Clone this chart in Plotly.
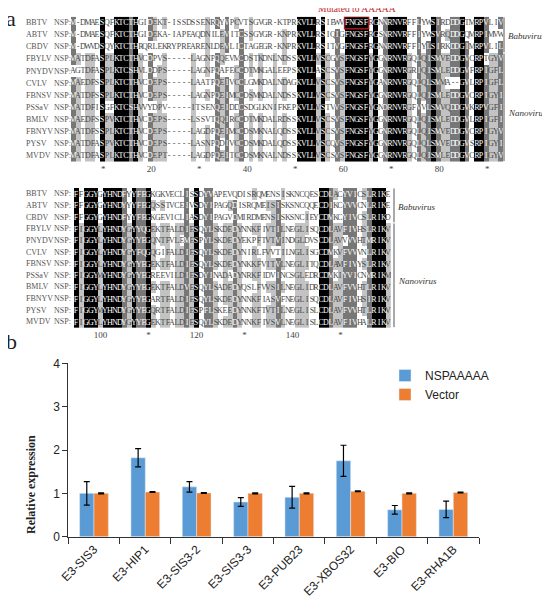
import plotly.graph_objects as go
from collections import Counter

# ---- panel a: NSP alignment ----
viruses = ["BBTV", "ABTV", "CBDV", "FBYLV", "PNYDV", "CVLV",
           "FBNSV", "PSSaV", "BMLV", "FBNYV", "PYSV", "MVDV"]

block1 = [
    "M-DMAESQFKTCTHGIDEKT-ISSDSSENRQYVPCVTSGVGR-KTPRKVLLRSIEWVFNGSFRGNNRNVRFFLYWSIRDDDGTMRPVLIV",
    "M-DMAESQFKTCTHGIDEKA-IAPEAQDNILEVITCSSGYGR-KNPRKVLLRSIQIGFNGSFRGSNRNVRFFIYWSVRQDDGQMRPIMVW",
    "M-DWVDSQYKTCTHRQRLEKRYPREARENLDEVLICTAGEGR-KNPRKVLLRSITVGFNGSFRGNNRNVRFFIYLSIRKDDGIMRPVLIL",
    "MATDFASPLKTCTHVCDPVS-----LAGNPQQEVMCDSTKDNLNDSSKVLLVSCGVSFNGSFYGGNRNVRGQLQISMVEDDGVCRPTGYV",
    "AGTDFASPLKTCSHVLDDPS-----LAGNPQAFECCDTMKGALEEPSKVLLASCSVSFNGSFYGGNRNVRGRIQISMLEDDGVFRPIGFL",
    "MAEDFSSPLKTCTHVCDEPS-----LAATPQEIVCCLGMKDALNDAGKVLLVSCSVSFNGSFYGANRNVRGQLQLSMMA--GVLRPIGFL",
    "MATDFSSPLKTCTHVCDEPS-----LAGNPQEIMCCDSMKDALNDSSKVLLVSCSVSFNGSFYGGNRNVRGQLQISMLEDDGVCRPIGYI",
    "MATDFISGFKTCSHVVYDPV-----ITSENQEIDDCSDGLKNIFKEPKVLLVSTVVSFNGSFYGNDRNVRGFVVLSMVQDDGVKRPVGFI",
    "MAEDFSSPVKTCTHVCDEPS-----LSSVTQQIRCCDTMKDALRDSSKVLLVSCSVSFNGSFYGGNRNVRGQLQISMLEDDGVLRPIGFI",
    "MATDFSSPLKTCTHVCDEPS-----LAGDPQEIMCCDSMKNALQDSSKVLLVSCSVSFNGSFYGGNRNVRGQLQISMVEDDGVCRPIGYV",
    "MATDFASPVKTCTHVCDEPS-----LASNPQDIVCCDSMKDALQDSSKVLLVSCQVSFNGSFYGGNRNVRGQLQLSMVEDDGVSRPIGYI",
    "MATDFASPLKTCTHVCDEPT-----LAGDPQEITCCDSMKNALNDSSKVLLVSCSVSFNGSFYGGNRNVRGQLQISMLEDDGVCRPIGYV",
]

block2 = [
    "FFGGYGYHNDFYYFEGKGKVECLISSDYVAPEVQDISRQMENSISKNCQESCDLACYVICSLRIKE",
    "FFGGYGYHNDYYYFEGQSSTVCEIVSDYIPAGQDISRQMEISISKSNCQQECDIKCYVVCNLRIKE",
    "FFGGYGYHNDFYYFEGKGEVICLIASDYIPAGVDMIRDMENSISKSNCIEYCDMKCYIVCSLRIKD",
    "FIGGYLYHNDYGYYQGEKTFALDIESQYLSKDEDYNNKFIVTILNEGLISQCDLAVFIVHSLRIKV",
    "FIGGYLYHNDYGYYEGQNTFVLEMESPYLSKDEDYEKPFTVTVINDGLDVSCDLAVVVVHTMRIKV",
    "FIGGYLYHNDYGYFQGQGIFALDIESQYLSKDEDYNIRLFVVTILNGLISGCDMKVFVVVNLRIKV",
    "FIGGYLYHNDYGYYEGEKTFALDIESQYLSKDEDYNKKFVITVLNEGLITQCDLAMFIVYSLRIKV",
    "FIGGYMYHNDYGYYEGREEVILDIESDYINADADYNRKFIDVINCSGLEDRCDMKIYVICNMRIKM",
    "FIGGYLYHNDYGYYEGEKTFALDVESQYLSADEDYQSLFVVSILNEGLIDRCDLAVFVVHTLRIKV",
    "FIGGYLYHNDYGYYEGARTFALDIESQYLSKDEDYNNKFIASVFNEGLISQCDLAVFIVHSIRIKV",
    "FIGGYMYHNDYGYYEGQRTFALDIESPFLSKEEDYNNKFTVTILNEGLISLCDLAVFVVHTLRIKV",
    "FIGGYLYHNDYGYYEGEKTFALDIESQYLSKDEDYNNKFIVSVLNEGLISLCDLAVFIVHALRIKV",
]

ruler1 = ["*", "20", "*", "40", "*", "60", "*", "80", "*"]
ruler2 = ["100", "*", "120", "*", "140", "*"]
groups = [("Babuvirus", 0, 2), ("Nanovirus", 3, 11)]
mutated = "FNGSF"
similar = ["DN", "EQ", "ST", "KR", "FYW", "LIVM"]

# ---- panel b: qPCR ----
genes = ["E3-SIS3", "E3-HIP1", "E3-SIS3-2", "E3-SIS3-3",
         "E3-PUB23", "E3-XBOS32", "E3-BIO", "E3-RHA1B"]
nsp_vals = [1.00, 1.82, 1.15, 0.80, 0.91, 1.75, 0.62, 0.63]
nsp_err = [0.27, 0.21, 0.12, 0.10, 0.25, 0.36, 0.10, 0.19]
vec_vals = [1.00, 1.03, 1.01, 1.00, 1.00, 1.05, 1.00, 1.02]
vec_err = [0.01, 0.01, 0.01, 0.01, 0.01, 0.01, 0.01, 0.01]

assert len(set(map(len, block1))) == 1 and len(set(map(len, block2))) == 1


def grp(ch):
    for g in similar:
        if ch in g:
            return g
    return ch


def shade(seqs):
    # GeneDoc-like shading: 100% identical black, >=80% similar dark grey, >=60% light grey
    n = len(seqs)
    z = [[0] * len(seqs[0]) for _ in seqs]
    for c in range(len(seqs[0])):
        col = [s[c] for s in seqs]
        cnt = Counter(grp(ch) for ch in col if ch != "-")
        if not cnt:
            continue
        g, k = cnt.most_common(1)[0]
        ident = Counter(ch for ch in col if ch != "-").most_common(1)[0][1]
        if ident == n:
            lvl = 3
        elif k / n >= 0.8:
            lvl = 2
        elif k / n >= 0.6:
            lvl = 1
        else:
            lvl = 0
        for r, ch in enumerate(col):
            if ch != "-" and grp(ch) == g:
                z[r][c] = lvl
    return z


W, H = 550, 608
OFF = 8  # page body margin
px = lambda v: (v - OFF) / W
py = lambda v: 1 - (v - OFF) / H

cscale = [[0, "white"], [0.25, "white"], [0.25, "#c3c3c3"], [0.5, "#c3c3c3"],
          [0.5, "#777777"], [0.75, "#777777"], [0.75, "black"], [1, "black"]]
serif = "Liberation Serif, Times New Roman, serif"
sans = "Arial, Liberation Sans, sans-serif"

fig = go.Figure()
for i, seqs in enumerate([block1, block2]):
    ax = "" if i == 0 else "2"
    fig.add_trace(go.Heatmap(
        z=shade(seqs), x=list(range(1, len(seqs[0]) + 1)), y=list(range(len(seqs))),
        text=[list(s) for s in seqs], texttemplate="%{text}",
        textfont=dict(family=serif, size=8),
        colorscale=cscale, zmin=-0.5, zmax=3.5, showscale=False,
        hoverinfo="skip", xaxis="x" + ax, yaxis="y" + ax))

fig.add_trace(go.Bar(name="NSPAAAAA", x=genes, y=nsp_vals, marker_color="#5B9BD5",
                     error_y=dict(type="data", array=nsp_err, color="black", thickness=1.2, width=3),
                     xaxis="x3", yaxis="y3"))
fig.add_trace(go.Bar(name="Vector", x=genes, y=vec_vals, marker_color="#ED7D31",
                     error_y=dict(type="data", array=vec_err, color="black", thickness=1.2, width=3),
                     xaxis="x3", yaxis="y3"))

hid = dict(showgrid=False, zeroline=False, showline=False, ticks="", automargin=False)
fig.update_layout(
    width=W, height=H, margin=dict(l=0, r=0, t=0, b=0, pad=0),
    plot_bgcolor="white", paper_bgcolor="white",
    barmode="group", bargap=0.44, bargroupgap=0,
    xaxis=dict(domain=[px(71), px(503)], range=[0.5, len(block1[0]) + 0.5],
               tickmode="array", tickvals=[(j + 1) * 10 - 2.8 for j in range(len(ruler1))],
               ticktext=ruler1, tickfont=dict(family=serif, size=9, color="#444"), **hid),
    yaxis=dict(domain=[py(161.7), py(16.7)], range=[11.5, -0.5], showticklabels=False, **hid),
    xaxis2=dict(domain=[px(74), px(390.8)], range=[0.5, len(block2[0]) + 0.5],
                tickmode="array", tickvals=[100 + j * 10 - 94 for j in range(len(ruler2))],
                ticktext=ruler2, tickfont=dict(family=serif, size=9, color="#444"),
                anchor="y2", **hid),
    yaxis2=dict(domain=[py(327.8), py(187.9)], range=[11.5, -0.5], showticklabels=False,
                anchor="x2", **hid),
    xaxis3=dict(domain=[px(68.3), px(479)], anchor="y3", showline=True, linecolor="#333",
                ticks="outside", tickson="boundaries", ticklen=6, tickcolor="#333",
                tickangle=-45, tickfont=dict(family=sans, size=12, color="#222"),
                showgrid=False, automargin=False),
    yaxis3=dict(domain=[py(536.7), py(363.3)], anchor="x3", range=[0, 4], tickvals=[0, 1, 2, 3, 4],
                showline=True, linecolor="#333", ticks="outside", ticklen=5, tickcolor="#333",
                tickfont=dict(family=sans, size=12, color="#222"),
                showgrid=False, zeroline=False, automargin=False),
    legend=dict(x=px(385), y=py(361), xanchor="left", yanchor="top", itemwidth=30,
                font=dict(family=sans, size=12, color="#222"),
                bgcolor="rgba(0,0,0,0)"),
)

# names, brackets
for i, seqs in enumerate([block1, block2]):
    yref = "y" if i == 0 else "y2"
    for r, nm in enumerate(viruses):
        fig.add_annotation(x=px(24), y=r, xref="paper", yref=yref, text=nm, showarrow=False,
                           xanchor="left", yanchor="middle",
                           font=dict(family=serif, size=8, color="#555"))
        fig.add_annotation(x=px(51.5), y=r, xref="paper", yref=yref, text="NSP:", showarrow=False,
                           xanchor="left", yanchor="middle",
                           font=dict(family=serif, size=8, color="#555"))
    bx = 504 if i == 0 else 394
    for g, r0, r1 in groups:
        fig.add_shape(type="line", xref="paper", yref=yref, x0=px(bx), x1=px(bx),
                      y0=r0 - 0.45, y1=r1 + 0.45, line=dict(color="#555", width=1))
        fig.add_annotation(x=px(bx + 2), y=(r0 + r1) / 2 + (0.1 if r0 == 0 else 0.5),
                           xref="paper", yref=yref, text="<i>%s</i>" % g, showarrow=False,
                           xanchor="left", yanchor="middle",
                           font=dict(family=serif, size=9, color="#333"))

# mutated motif
m0 = block1[0].index(mutated) + 1
fig.add_shape(type="rect", xref="x", yref="y", x0=m0 - 0.5, x1=m0 + len(mutated) - 0.5,
              y0=-0.5, y1=0.5, line=dict(color="#a3141a", width=1.5))
fig.add_annotation(x=m0 + (len(mutated) - 1) / 2, y=py(9), xref="x", yref="paper",
                   text="Mutated to AAAAA", showarrow=False, xanchor="center", yanchor="middle",
                   font=dict(family=serif, size=9.5, color="#c0282d"))

# panel letters and y title
fig.add_annotation(x=px(11), y=py(19), xref="paper", yref="paper", text="a", showarrow=False,
                   xanchor="center", yanchor="middle", font=dict(family=serif, size=22, color="#222"))
fig.add_annotation(x=px(11), y=py(341), xref="paper", yref="paper", text="b", showarrow=False,
                   xanchor="center", yanchor="middle", font=dict(family=serif, size=22, color="#222"))
fig.add_annotation(x=px(31), y=py(485), xref="paper", yref="paper", text="<b>Relative expression</b>",
                   textangle=-90, showarrow=False, xanchor="center", yanchor="middle",
                   font=dict(family=serif, size=12, color="#222"))

fig.write_html("out.html")
